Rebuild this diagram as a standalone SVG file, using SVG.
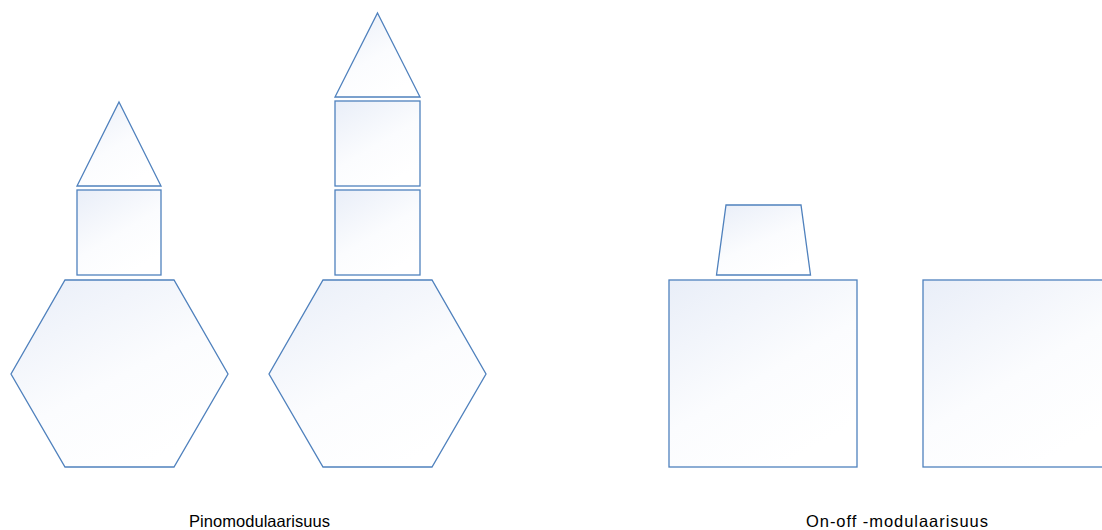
<svg xmlns="http://www.w3.org/2000/svg" width="1102" height="530" viewBox="0 0 1102 530">
<defs>
<linearGradient id="g" x1="0" y1="0" x2="0.6" y2="1">
<stop offset="0" stop-color="#e9eef8"/>
<stop offset="0.6" stop-color="#fbfcfe"/>
<stop offset="1" stop-color="#ffffff"/>
</linearGradient>
<style>
.s{fill:url(#g);stroke:#4f81bd;stroke-width:1.3;stroke-linejoin:miter}
.t{font-family:"Liberation Sans",Arial,sans-serif;font-size:16.5px;fill:#000}
</style>
</defs>
<rect width="1102" height="530" fill="#ffffff"/>
<g id="tower1">
<polygon class="s" points="119,102 161,186 77,186"/>
<rect class="s" x="77" y="190" width="84" height="85"/>
<polygon class="s" points="65,280 174,280 228,374 174,467 65,467 11,374"/>
</g>
<g id="tower2">
<polygon class="s" points="377.5,13 420,97 335,97"/>
<rect class="s" x="335" y="101" width="85" height="85"/>
<rect class="s" x="335" y="190" width="85" height="85"/>
<polygon class="s" points="323,280 432,280 486,374 432,467 323,467 269,374"/>
</g>
<g id="onoff">
<polygon class="s" points="726,205 801,205 810.5,275 716.5,275"/>
<rect class="s" x="669" y="280" width="188" height="187"/>
<rect class="s" x="923" y="280" width="188" height="187"/>
</g>
<g id="connectors"/>
<g id="labels">
<text class="t" x="189" y="527" textLength="141" lengthAdjust="spacing">Pinomodulaarisuus</text>
<text class="t" x="806" y="527" textLength="182" lengthAdjust="spacing">On-off -modulaarisuus</text>
</g>
</svg>
